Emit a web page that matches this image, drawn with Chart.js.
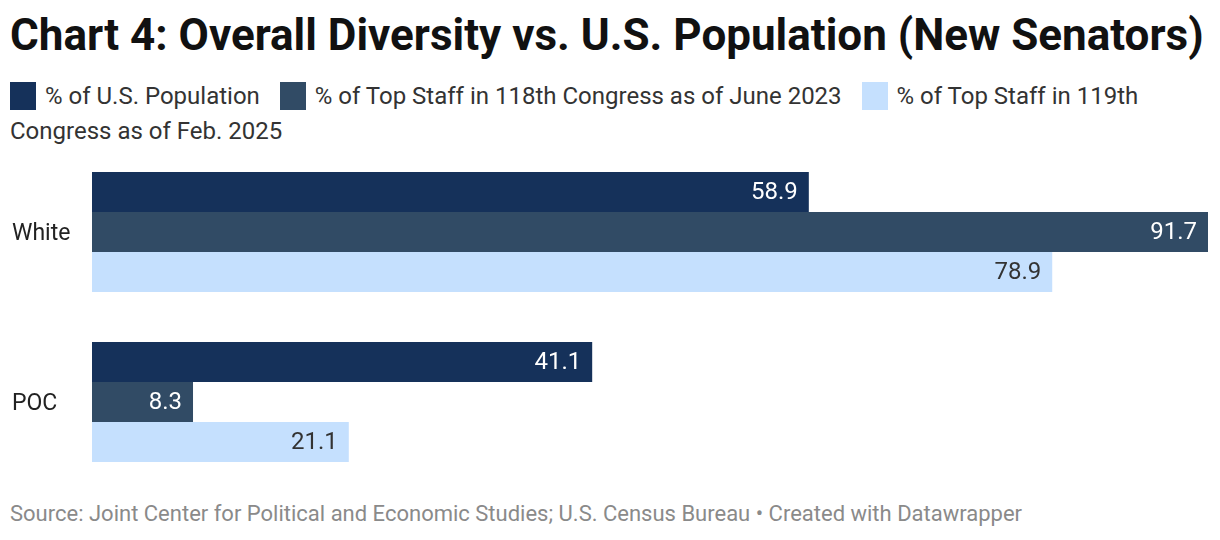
<!DOCTYPE html>
<html>
<head>
<meta charset="utf-8">
<script src="https://cdn.jsdelivr.net/npm/chart.js@4"></script>
<style>
  body { margin: 0; width: 1220px; height: 540px; background: #fff; font-family: Roboto, sans-serif; position: relative; overflow: hidden; }
  #title { position: absolute; left: 10px; top: 9px; font-size: 44px; font-weight: 700; color: #111; white-space: nowrap; }
  #legend { position: absolute; left: 10px; top: 79px; width: 1200px; font-size: 24px; line-height: 35px; color: #333; }
  #legend .item { margin-right: 14px; }
  #legend .sw { display: inline-block; width: 26px; height: 28px; vertical-align: -6px; margin-right: 9px; }
  #wrap { position: absolute; left: 0; top: 147px; width: 1220px; height: 340px; }
  #footer { position: absolute; left: 10px; top: 501px; font-size: 22px; color: #8a8a8a; white-space: nowrap; }
</style>
</head>
<body>
<div id="title">Chart 4: Overall Diversity vs. U.S. Population (New Senators)</div>
<div id="legend"></div>
<div id="wrap"><canvas id="chart"></canvas></div>
<div id="footer">Source: Joint Center for Political and Economic Studies; U.S. Census Bureau • Created with Datawrapper</div>
<script>
const categories = ["White", "POC"];
const seriesNames = [
  "% of U.S. Population",
  "% of Top Staff in 118th Congress as of June 2023",
  "% of Top Staff in 119th Congress as of Feb. 2025"
];
const usPopulation = [58.9, 41.1];
const staff118 = [91.7, 8.3];
const staff119 = [78.9, 21.1];
const colors = ["#15315a", "#314b65", "#c5e0fe"];
const labelColors = ["#ffffff", "#ffffff", "#333333"];

// html legend (wraps like the original)
const legend = document.getElementById("legend");
seriesNames.forEach((name, i) => {
  const span = document.createElement("span");
  span.className = "item";
  span.innerHTML = '<span class="sw" style="background:' + colors[i] + '"></span>' + name;
  legend.appendChild(span);
  legend.appendChild(document.createTextNode(" "));
});

// value labels at the inside end of each bar
const barLabels = {
  id: "barLabels",
  afterDatasetsDraw(chart) {
    const { ctx } = chart;
    ctx.save();
    ctx.font = "24px Roboto";
    ctx.textAlign = "right";
    ctx.textBaseline = "middle";
    chart.data.datasets.forEach((ds, i) => {
      chart.getDatasetMeta(i).data.forEach((bar, j) => {
        ctx.fillStyle = labelColors[i];
        ctx.fillText(ds.data[j].toFixed(1), bar.x - 11, bar.y + 1);
      });
    });
    ctx.restore();
  }
};

new Chart(document.getElementById("chart"), {
  type: "bar",
  data: {
    labels: categories,
    datasets: [usPopulation, staff118, staff119].map((d, i) => ({
      label: seriesNames[i],
      data: d,
      backgroundColor: colors[i],
      borderWidth: 0,
      barPercentage: 1,
      categoryPercentage: 120 / 170
    }))
  },
  options: {
    indexAxis: "y",
    responsive: true,
    maintainAspectRatio: false,
    animation: false,
    layout: { padding: { left: 12, right: 12, top: 0, bottom: 0 } },
    scales: {
      x: { display: false, min: 0, max: 91.7 },
      y: {
        grid: { display: false },
        border: { display: false },
        ticks: { color: "#222", font: { family: "Roboto", size: 23 }, crossAlign: "far", padding: 0, labelOffset: 2 },
        afterFit(scale) {
          scale.width = 80;
          scale.paddingTop = 0;
          scale.paddingBottom = 0;
        }
      }
    },
    plugins: { legend: { display: false }, tooltip: { enabled: false } }
  },
  plugins: [barLabels]
});
</script>
</body>
</html>
